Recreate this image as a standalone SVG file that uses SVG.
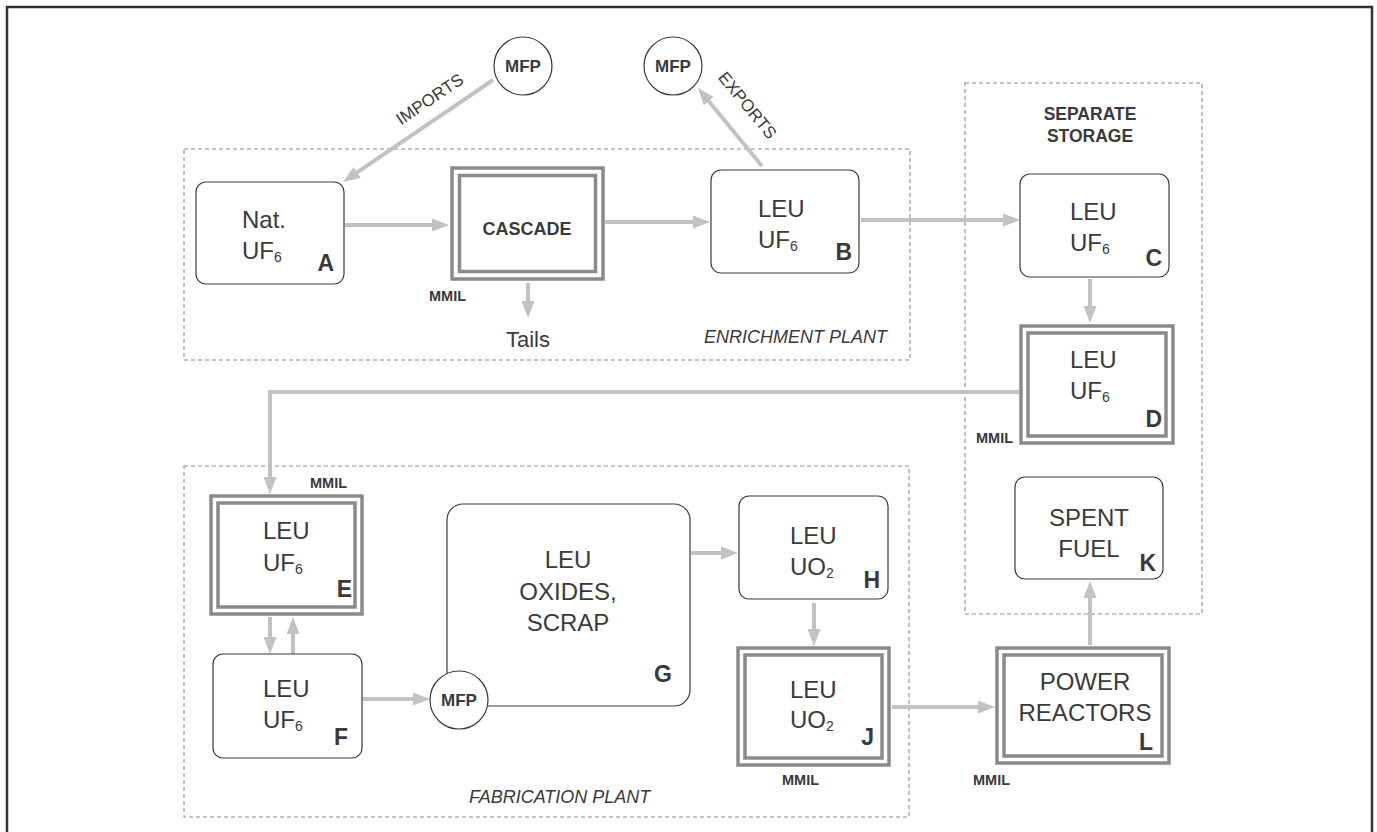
<svg xmlns="http://www.w3.org/2000/svg" width="1377" height="832" viewBox="0 0 1377 832">
<defs>
<marker id="ah" viewBox="0 0 17 13" refX="7" refY="6.5" markerWidth="17" markerHeight="13" markerUnits="userSpaceOnUse" orient="auto">
<path d="M0,0 L17,6.5 L0,13 z" fill="#c2c2c2"/>
</marker>
<style>
.frame{fill:none;stroke:#333;stroke-width:2.5}
.zone{fill:none;stroke:#8c8c8c;stroke-width:1.1;stroke-dasharray:4 3}
.box{fill:#fff;stroke:#3a3a3a;stroke-width:1.2}
.dbl{fill:#fff;stroke:#8a8a8a;stroke-width:3.5}
.dbli{fill:none;stroke:#8a8a8a;stroke-width:3.5}
.circ{fill:#fff;stroke:#3a3a3a;stroke-width:1.2}
.conn{fill:none;stroke:#c2c2c2;stroke-width:4;marker-end:url(#ah)}
.t{font-family:"Liberation Sans",Arial,sans-serif;font-size:24px;fill:#3a3a3a}
.sub{font-size:14px}
.lbl{font-family:"Liberation Sans",Arial,sans-serif;font-size:23px;font-weight:bold;fill:#3a3a3a;text-anchor:end}
.mmil{font-family:"Liberation Sans",Arial,sans-serif;font-size:14.5px;font-weight:bold;fill:#3a3a3a}
.mfp{font-family:"Liberation Sans",Arial,sans-serif;font-size:17px;font-weight:bold;fill:#3a3a3a;text-anchor:middle}
.zt{font-family:"Liberation Sans",Arial,sans-serif;font-size:18px;font-style:italic;fill:#3a3a3a}
.flow{font-family:"Liberation Sans",Arial,sans-serif;font-size:17px;fill:#3a3a3a;text-anchor:middle}
.bold18{font-family:"Liberation Sans",Arial,sans-serif;font-size:18px;font-weight:bold;fill:#3a3a3a;text-anchor:middle}
.mid{text-anchor:middle}
</style>
</defs>
<rect width="1377" height="832" fill="#fff"/>
<path class="frame" d="M7,840 L7,7 L1372,7 L1372,840"/>

<g id="zones">
<rect class="zone" x="184" y="149" width="726" height="211"/>
<text class="zt" x="887" y="343" text-anchor="end">ENRICHMENT PLANT</text>
<rect class="zone" x="965" y="83" width="237" height="531"/>
<text class="bold18" x="1090" y="120" style="font-size:17.5px">SEPARATE</text>
<text class="bold18" x="1090" y="142" style="font-size:17.5px">STORAGE</text>
<rect class="zone" x="184" y="466" width="725" height="351"/>
<text class="zt" x="469" y="803">FABRICATION PLANT</text>
</g>

<g id="connectors">
<line class="conn" x1="493" y1="80" x2="351.3" y2="176.4"/>
<text class="flow" transform="translate(433,104) rotate(-34)">IMPORTS</text>
<line class="conn" x1="762" y1="166" x2="704.3" y2="95.7"/>
<text class="flow" transform="translate(743,109) rotate(50.6)">EXPORTS</text>
<line class="conn" x1="345" y1="225" x2="439" y2="225"/>
<line class="conn" x1="605" y1="222" x2="700" y2="222"/>
<line class="conn" x1="528" y1="283" x2="528" y2="308"/>
<line class="conn" x1="861" y1="220" x2="1010" y2="220"/>
<line class="conn" x1="1090" y1="279" x2="1090" y2="313"/>
<polyline class="conn" points="1019,392 270,392 270,484"/>
<line class="conn" x1="270" y1="617" x2="270" y2="644"/>
<line class="conn" x1="293" y1="654" x2="293" y2="627"/>
<line class="conn" x1="362" y1="699" x2="420" y2="699"/>
<line class="conn" x1="691" y1="553" x2="728" y2="553"/>
<line class="conn" x1="814" y1="603" x2="814" y2="636"/>
<line class="conn" x1="892" y1="707" x2="985" y2="707"/>
<line class="conn" x1="1090" y1="645" x2="1090" y2="591"/>
</g>

<g id="mfp-imports">
<circle class="circ" cx="523" cy="66" r="29"/>
<text class="mfp" x="523" y="72">MFP</text>
</g>
<g id="mfp-exports">
<circle class="circ" cx="673" cy="66" r="29"/>
<text class="mfp" x="673" y="72">MFP</text>
</g>

<g id="node-A">
<rect class="box" x="196" y="182" width="148" height="102" rx="10"/>
<text class="t" x="242" y="228">Nat.</text>
<text class="t" x="242" y="259">UF<tspan class="sub" dy="3">6</tspan></text>
<text class="lbl" x="334" y="271">A</text>
</g>

<g id="node-cascade">
<rect class="dbl" x="452" y="168" width="151" height="111"/>
<rect class="dbli" x="459.5" y="175.5" width="136" height="96"/>
<text class="bold18" x="527" y="235">CASCADE</text>
<text class="mmil" x="429" y="301">MMIL</text>
<text class="t mid" x="528" y="347" style="font-size:22px">Tails</text>
</g>

<g id="node-B">
<rect class="box" x="711" y="170" width="148" height="103" rx="10"/>
<text class="t" x="758" y="217">LEU</text>
<text class="t" x="758" y="248">UF<tspan class="sub" dy="3">6</tspan></text>
<text class="lbl" x="852" y="260">B</text>
</g>

<g id="node-C">
<rect class="box" x="1020" y="174" width="149" height="103" rx="10"/>
<text class="t" x="1070" y="220">LEU</text>
<text class="t" x="1070" y="251">UF<tspan class="sub" dy="3">6</tspan></text>
<text class="lbl" x="1162" y="266">C</text>
</g>

<g id="node-D">
<rect class="dbl" x="1021" y="326" width="152" height="117"/>
<rect class="dbli" x="1028" y="333" width="138" height="103"/>
<text class="t" x="1070" y="368">LEU</text>
<text class="t" x="1070" y="399">UF<tspan class="sub" dy="3">6</tspan></text>
<text class="lbl" x="1162" y="427">D</text>
<text class="mmil" x="976" y="443">MMIL</text>
</g>

<g id="node-E">
<rect class="dbl" x="211" y="496" width="151" height="118"/>
<rect class="dbli" x="218" y="503" width="137" height="104"/>
<text class="t" x="263" y="539">LEU</text>
<text class="t" x="263" y="571">UF<tspan class="sub" dy="3">6</tspan></text>
<text class="lbl" x="352" y="597">E</text>
<text class="mmil" x="310" y="488">MMIL</text>
</g>

<g id="node-F">
<rect class="box" x="213" y="654" width="149" height="104" rx="10"/>
<text class="t" x="263" y="697">LEU</text>
<text class="t" x="263" y="728">UF<tspan class="sub" dy="3">6</tspan></text>
<text class="lbl" x="348" y="745">F</text>
</g>

<g id="node-G">
<rect class="box" x="447" y="504" width="243" height="202" rx="16"/>
<text class="t mid" x="568" y="568">LEU</text>
<text class="t mid" x="568" y="600">OXIDES,</text>
<text class="t mid" x="568" y="631">SCRAP</text>
<text class="lbl" x="672" y="682">G</text>
</g>

<g id="mfp-fab">
<circle class="circ" cx="459" cy="700" r="29"/>
<text class="mfp" x="459" y="706">MFP</text>
</g>

<g id="node-H">
<rect class="box" x="739" y="496" width="149" height="103" rx="10"/>
<text class="t" x="790" y="544">LEU</text>
<text class="t" x="790" y="575">UO<tspan class="sub" dy="3">2</tspan></text>
<text class="lbl" x="880" y="588">H</text>
</g>

<g id="node-J">
<rect class="dbl" x="738" y="648" width="151" height="117"/>
<rect class="dbli" x="745" y="655" width="137" height="103"/>
<text class="t" x="790" y="698">LEU</text>
<text class="t" x="790" y="728">UO<tspan class="sub" dy="3">2</tspan></text>
<text class="lbl" x="874" y="745">J</text>
<text class="mmil" x="782" y="785">MMIL</text>
</g>

<g id="node-K">
<rect class="box" x="1015" y="477" width="148" height="102" rx="10"/>
<text class="t mid" x="1089" y="526">SPENT</text>
<text class="t mid" x="1089" y="557">FUEL</text>
<text class="lbl" x="1156" y="571">K</text>
</g>

<g id="node-L">
<rect class="dbl" x="997" y="648" width="172" height="115"/>
<rect class="dbli" x="1004" y="655" width="158" height="101"/>
<text class="t mid" x="1085" y="690">POWER</text>
<text class="t mid" x="1085" y="721">REACTORS</text>
<text class="lbl" x="1153" y="750">L</text>
<text class="mmil" x="973" y="785">MMIL</text>
</g>
</svg>
